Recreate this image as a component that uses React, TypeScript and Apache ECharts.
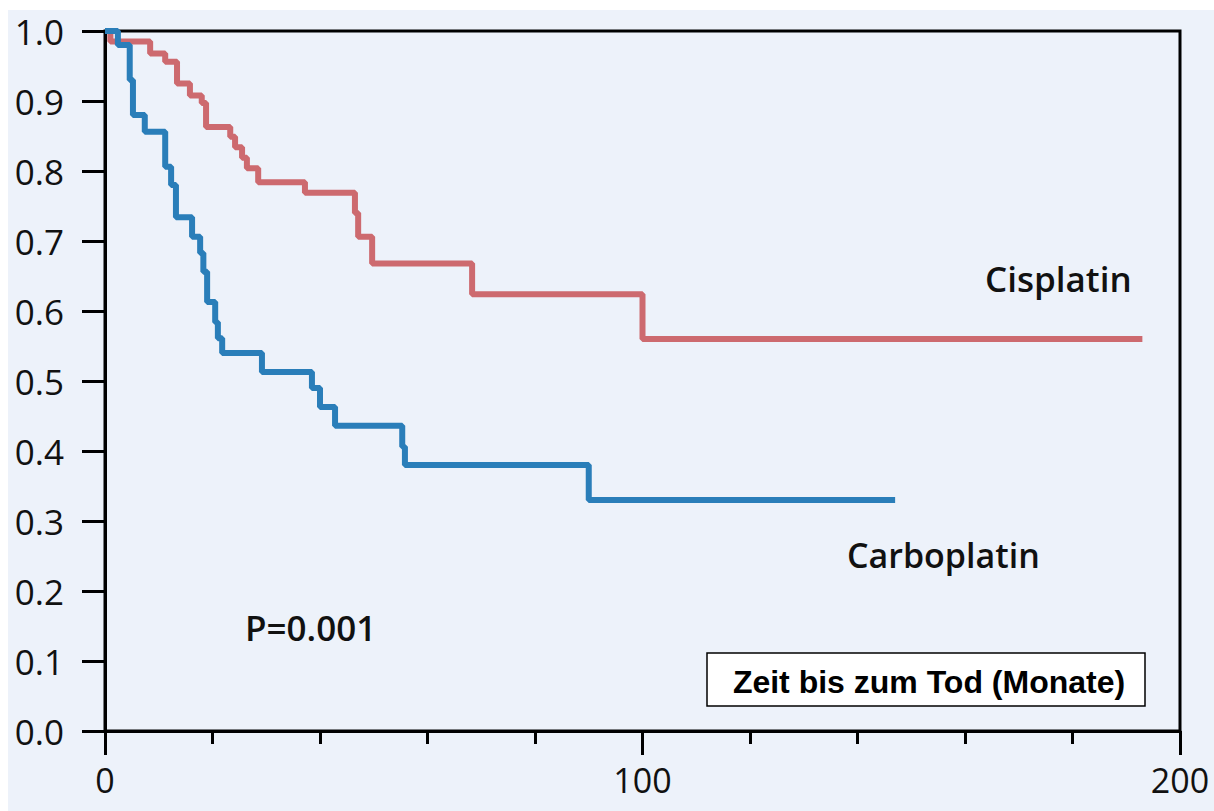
import React, { useEffect, useRef } from "react";
import * as echarts from "echarts";

const cisplatinTimes = [0, 1, 8.4, 11.2, 13.4, 15.8, 18.0, 18.8, 23.3, 24.2, 25.5, 26.4, 28.5, 37.2, 46.5, 47.1, 49.7, 68.3, 100, 193];
const cisplatinSurvival = [1.0, 0.985, 0.968, 0.956, 0.925, 0.908, 0.897, 0.863, 0.849, 0.834, 0.819, 0.804, 0.784, 0.769, 0.74, 0.706, 0.668, 0.624, 0.56, 0.56];

const carboplatinTimes = [0, 2.4, 4.6, 5.2, 7.4, 11.2, 12.3, 13.2, 16.2, 17.7, 18.3, 19.0, 20.5, 21.0, 21.8, 29.2, 38.5, 40.0, 42.8, 55.3, 55.8, 90, 147];
const carboplatinSurvival = [1.0, 0.98, 0.93, 0.88, 0.856, 0.806, 0.78, 0.734, 0.706, 0.683, 0.656, 0.613, 0.584, 0.561, 0.54, 0.513, 0.49, 0.463, 0.436, 0.406, 0.38, 0.33, 0.33];

const xLabeled = [0, 100, 200];
const seriesNames = ["Cisplatin", "Carboplatin"];
const pValueText = "P=0.001";
const xAxisTitle = "Zeit bis zum Tod (Monate)";

const LABEL_FONT = "'Open Sans', 'Noto Sans', sans-serif";

export default function App() {
  const ref = useRef<HTMLDivElement>(null);
  useEffect(() => {
    if (!ref.current) return;
    const chart = echarts.init(ref.current, null, { renderer: "svg" });
    const pair = (t: number[], s: number[]) => t.map((x, i) => [x, s[i]]);
    chart.setOption({
      animation: false,
      backgroundColor: "#ffffff",
      grid: {
        left: 105,
        right: 34,
        top: 31,
        bottom: 80,
        show: true,
        borderColor: "#000",
        borderWidth: 3,
        backgroundColor: "transparent",
      },
      xAxis: {
        type: "value",
        min: 0,
        max: 200,
        interval: 100,
        axisLine: { show: true, onZero: false, lineStyle: { color: "#000", width: 3 } },
        axisTick: { show: true, length: 24, lineStyle: { color: "#000", width: 3 } },
        minorTick: { show: true, splitNumber: 5, length: 13, lineStyle: { color: "#000", width: 3 } },
        splitLine: { show: false },
        axisLabel: {
          margin: 32,
          fontSize: 34,
          color: "#111",
          fontFamily: LABEL_FONT,
          formatter: (v: number) => (xLabeled.includes(v) ? String(v) : ""),
        },
      },
      yAxis: {
        type: "value",
        min: 0,
        max: 1,
        interval: 0.1,
        axisLine: { show: true, lineStyle: { color: "#000", width: 3 } },
        axisTick: { show: true, length: 23, lineStyle: { color: "#000", width: 3 } },
        splitLine: { show: false },
        axisLabel: {
          margin: 41,
          fontSize: 35,
          color: "#111",
          fontFamily: LABEL_FONT,
          formatter: (v: number) => v.toFixed(1),
        },
      },
      graphic: [
        {
          type: "rect",
          z: -10,
          silent: true,
          shape: { x: 8, y: 10, width: 1206, height: 801 },
          style: { fill: "#edf2fa" },
        },
        {
          type: "text",
          x: 985,
          y: 278,
          style: { text: seriesNames[0], font: `600 35px ${LABEL_FONT}`, fill: "#111", verticalAlign: "middle" },
        },
        {
          type: "text",
          x: 847,
          y: 555,
          style: { text: seriesNames[1], font: `600 34px ${LABEL_FONT}`, fill: "#111", verticalAlign: "middle" },
        },
        {
          type: "text",
          x: 245,
          y: 627,
          style: { text: pValueText, font: `600 35px ${LABEL_FONT}`, fill: "#111", verticalAlign: "middle" },
        },
        {
          type: "rect",
          shape: { x: 707, y: 653, width: 438, height: 53 },
          style: { fill: "#ffffff", stroke: "#000", lineWidth: 1.5 },
        },
        {
          type: "text",
          x: 929,
          y: 682,
          style: {
            text: xAxisTitle,
            font: "bold 32px 'Liberation Sans', Arial, sans-serif",
            fill: "#000",
            align: "center",
            verticalAlign: "middle",
          },
        },
      ],
      series: [
        {
          name: seriesNames[0],
          type: "line",
          step: "end",
          showSymbol: false,
          symbol: "none",
          data: pair(cisplatinTimes, cisplatinSurvival),
          lineStyle: { color: "#cd6a6f", width: 6 },
          z: 3,
        },
        {
          name: seriesNames[1],
          type: "line",
          step: "end",
          showSymbol: false,
          symbol: "none",
          data: pair(carboplatinTimes, carboplatinSurvival),
          lineStyle: { color: "#2a7eb9", width: 6 },
          z: 4,
        },
      ],
    });
    return () => chart.dispose();
  }, []);
  return (
    <div
      ref={ref}
      style={{ position: "fixed", left: 0, top: 0, width: 1214, height: 811 }}
    />
  );
}
